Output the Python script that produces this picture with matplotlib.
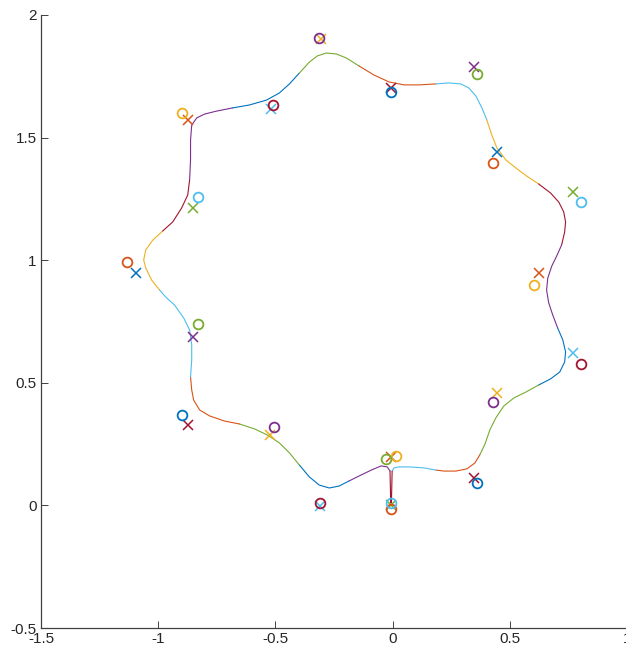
import matplotlib
matplotlib.use("Agg")
import matplotlib.pyplot as plt
from matplotlib.ticker import FormatStrFormatter

# MATLAB default colour order
BLUE = "#0072BD"
RED = "#D95319"
YELLOW = "#EDB120"
PURPLE = "#7E2F8E"
GREEN = "#77AC30"
CYAN = "#4DBEEE"
DARKRED = "#A2142F"

# Closed curve, stored piece by piece (each piece drawn in its own colour)
seg_x = [
    [-0.994, -1.028, -1.053, -1.062, -1.053, -1.023, -0.981],
    [-0.981, -0.938, -0.900, -0.874, -0.866],
    [-0.866, -0.862, -0.862, -0.857, -0.836, -0.802, -0.751, -0.683],
    [-0.683, -0.611, -0.538, -0.483, -0.440, -0.398],
    [-0.398, -0.355, -0.321, -0.283, -0.240, -0.198, -0.143],
    [-0.143, -0.079, -0.015, 0.049, 0.113, 0.185],
    [0.185, 0.240, 0.291, 0.326, 0.355, 0.381, 0.402],
    [0.402, 0.423, 0.445, 0.483, 0.526, 0.572, 0.623],
    [0.623, 0.674, 0.709, 0.730, 0.738, 0.734, 0.721],
    [0.721, 0.700, 0.679, 0.662, 0.657, 0.666, 0.683, 0.704],
    [0.704, 0.726, 0.738, 0.734, 0.713, 0.674, 0.623],
    [0.623, 0.568, 0.517, 0.474, 0.440, 0.415, 0.394, 0.372],
    [0.372, 0.351, 0.317, 0.270, 0.219, 0.185],
    [0.185, 0.134, 0.070, 0.028, 0.006, -0.002],
    [-0.002, -0.005, -0.008, -0.011],
    [-0.011, -0.023, -0.049, -0.091, -0.143, -0.185],
    [-0.185, -0.228, -0.270, -0.313, -0.355, -0.398],
    [-0.398, -0.440, -0.483, -0.534, -0.589, -0.653],
    [-0.653, -0.717, -0.781, -0.823, -0.849, -0.857, -0.862],
    [-0.862, -0.857, -0.857, -0.866, -0.891, -0.930, -0.964, -0.994],
]
seg_y = [
    [0.878, 0.919, 0.968, 1.001, 1.042, 1.082, 1.119],
    [1.119, 1.156, 1.213, 1.266, 1.327],
    [1.327, 1.409, 1.490, 1.551, 1.580, 1.596, 1.608, 1.621],
    [1.621, 1.633, 1.653, 1.682, 1.719, 1.763],
    [1.763, 1.808, 1.833, 1.845, 1.841, 1.825, 1.792],
    [1.792, 1.755, 1.727, 1.715, 1.715, 1.719],
    [1.719, 1.723, 1.719, 1.702, 1.670, 1.621, 1.572],
    [1.572, 1.511, 1.458, 1.409, 1.376, 1.343, 1.311],
    [1.311, 1.274, 1.237, 1.197, 1.156, 1.115, 1.062],
    [1.062, 1.017, 0.976, 0.927, 0.878, 0.826, 0.777, 0.724],
    [0.724, 0.675, 0.626, 0.585, 0.544, 0.516, 0.491],
    [0.491, 0.462, 0.438, 0.405, 0.356, 0.308, 0.250, 0.206],
    [0.206, 0.173, 0.149, 0.140, 0.140, 0.144],
    [0.144, 0.153, 0.157, 0.157, 0.153, 0.140],
    [0.140, 0.010, 0.010, 0.140],
    [0.140, 0.157, 0.161, 0.144, 0.120, 0.100],
    [0.100, 0.079, 0.071, 0.083, 0.116, 0.165],
    [0.165, 0.214, 0.255, 0.287, 0.312, 0.332],
    [0.332, 0.344, 0.365, 0.389, 0.430, 0.471, 0.524],
    [0.524, 0.593, 0.654, 0.715, 0.764, 0.817, 0.846, 0.878],
]
seg_colors = [YELLOW, DARKRED, PURPLE, BLUE, GREEN, RED, CYAN, YELLOW, DARKRED,
              PURPLE, BLUE, GREEN, RED, CYAN, DARKRED, PURPLE, BLUE, GREEN,
              RED, CYAN]

# Sample points (circles)
circle_x = [-1.134, -0.900, -0.832, -0.832, -0.900, -0.504, -0.309, -0.313,
            -0.509, -0.006, 0.360, 0.428, 0.802, 0.602, 0.802, 0.428, 0.360,
            -0.006, -0.006, 0.015, -0.028]
circle_y = [0.993, 1.600, 1.258, 0.740, 0.369, 0.320, 0.010, 1.906, 1.633,
            1.686, 1.759, 1.396, 1.237, 0.899, 0.577, 0.422, 0.091, -0.015,
            0.010, 0.201, 0.189]
circle_colors = [RED, YELLOW, CYAN, GREEN, BLUE, PURPLE, DARKRED, PURPLE,
                 DARKRED, BLUE, GREEN, RED, CYAN, YELLOW, DARKRED, PURPLE,
                 BLUE, RED, CYAN, YELLOW, GREEN]

# Fitted points (crosses)
cross_x = [-1.096, -0.874, -0.853, -0.853, -0.874, -0.521, -0.309, -0.304,
           -0.517, -0.006, 0.347, 0.445, 0.768, 0.623, 0.768, 0.445, 0.347,
           -0.006, -0.006]
cross_y = [0.948, 1.572, 1.213, 0.687, 0.328, 0.287, -0.002, 1.902, 1.617,
           1.702, 1.788, 1.441, 1.278, 0.948, 0.622, 0.458, 0.112, 0.197,
           0.000]
cross_colors = [BLUE, RED, GREEN, PURPLE, DARKRED, YELLOW, CYAN, YELLOW, CYAN,
                DARKRED, PURPLE, BLUE, GREEN, RED, CYAN, YELLOW, DARKRED, RED,
                GREEN]

x_ticks = [-1.5, -1, -0.5, 0, 0.5, 1]
y_ticks = [-0.5, 0, 0.5, 1, 1.5, 2]

plt.rcParams["font.family"] = ["Liberation Sans", "DejaVu Sans"]

fig = plt.figure(figsize=(6.26, 6.5), dpi=100)
ax = fig.add_axes([41 / 626, 22 / 650, 586 / 626, 613 / 650])

for xs, ys, c in zip(seg_x, seg_y, seg_colors):
    ax.plot(xs, ys, color=c, lw=0.8, solid_capstyle="round",
            solid_joinstyle="round", zorder=2)

for x, y, c in zip(cross_x, cross_y, cross_colors):
    ax.plot(x, y, marker="x", ms=6.5, mew=1.1, color=c, ls="none", zorder=3)
for x, y, c in zip(circle_x, circle_y, circle_colors):
    ax.plot(x, y, marker="o", ms=7, mew=1.3, mfc="none", mec=c, ls="none",
            zorder=4)

ax.set_xlim(-1.5, 1)
ax.set_ylim(-0.5, 2)
ax.set_xticks(x_ticks)
ax.set_yticks(y_ticks)
ax.xaxis.set_major_formatter(FormatStrFormatter("%g"))
ax.yaxis.set_major_formatter(FormatStrFormatter("%g"))

axis_color = "#404040"
for side in ("top", "right"):
    ax.spines[side].set_visible(False)
for side in ("left", "bottom"):
    ax.spines[side].set_color(axis_color)
    ax.spines[side].set_linewidth(0.9)
ax.tick_params(direction="in", length=5, width=0.7, colors=axis_color,
               labelcolor="#262626", labelsize=11, pad=3)

fig.savefig("out.png", dpi=100)
